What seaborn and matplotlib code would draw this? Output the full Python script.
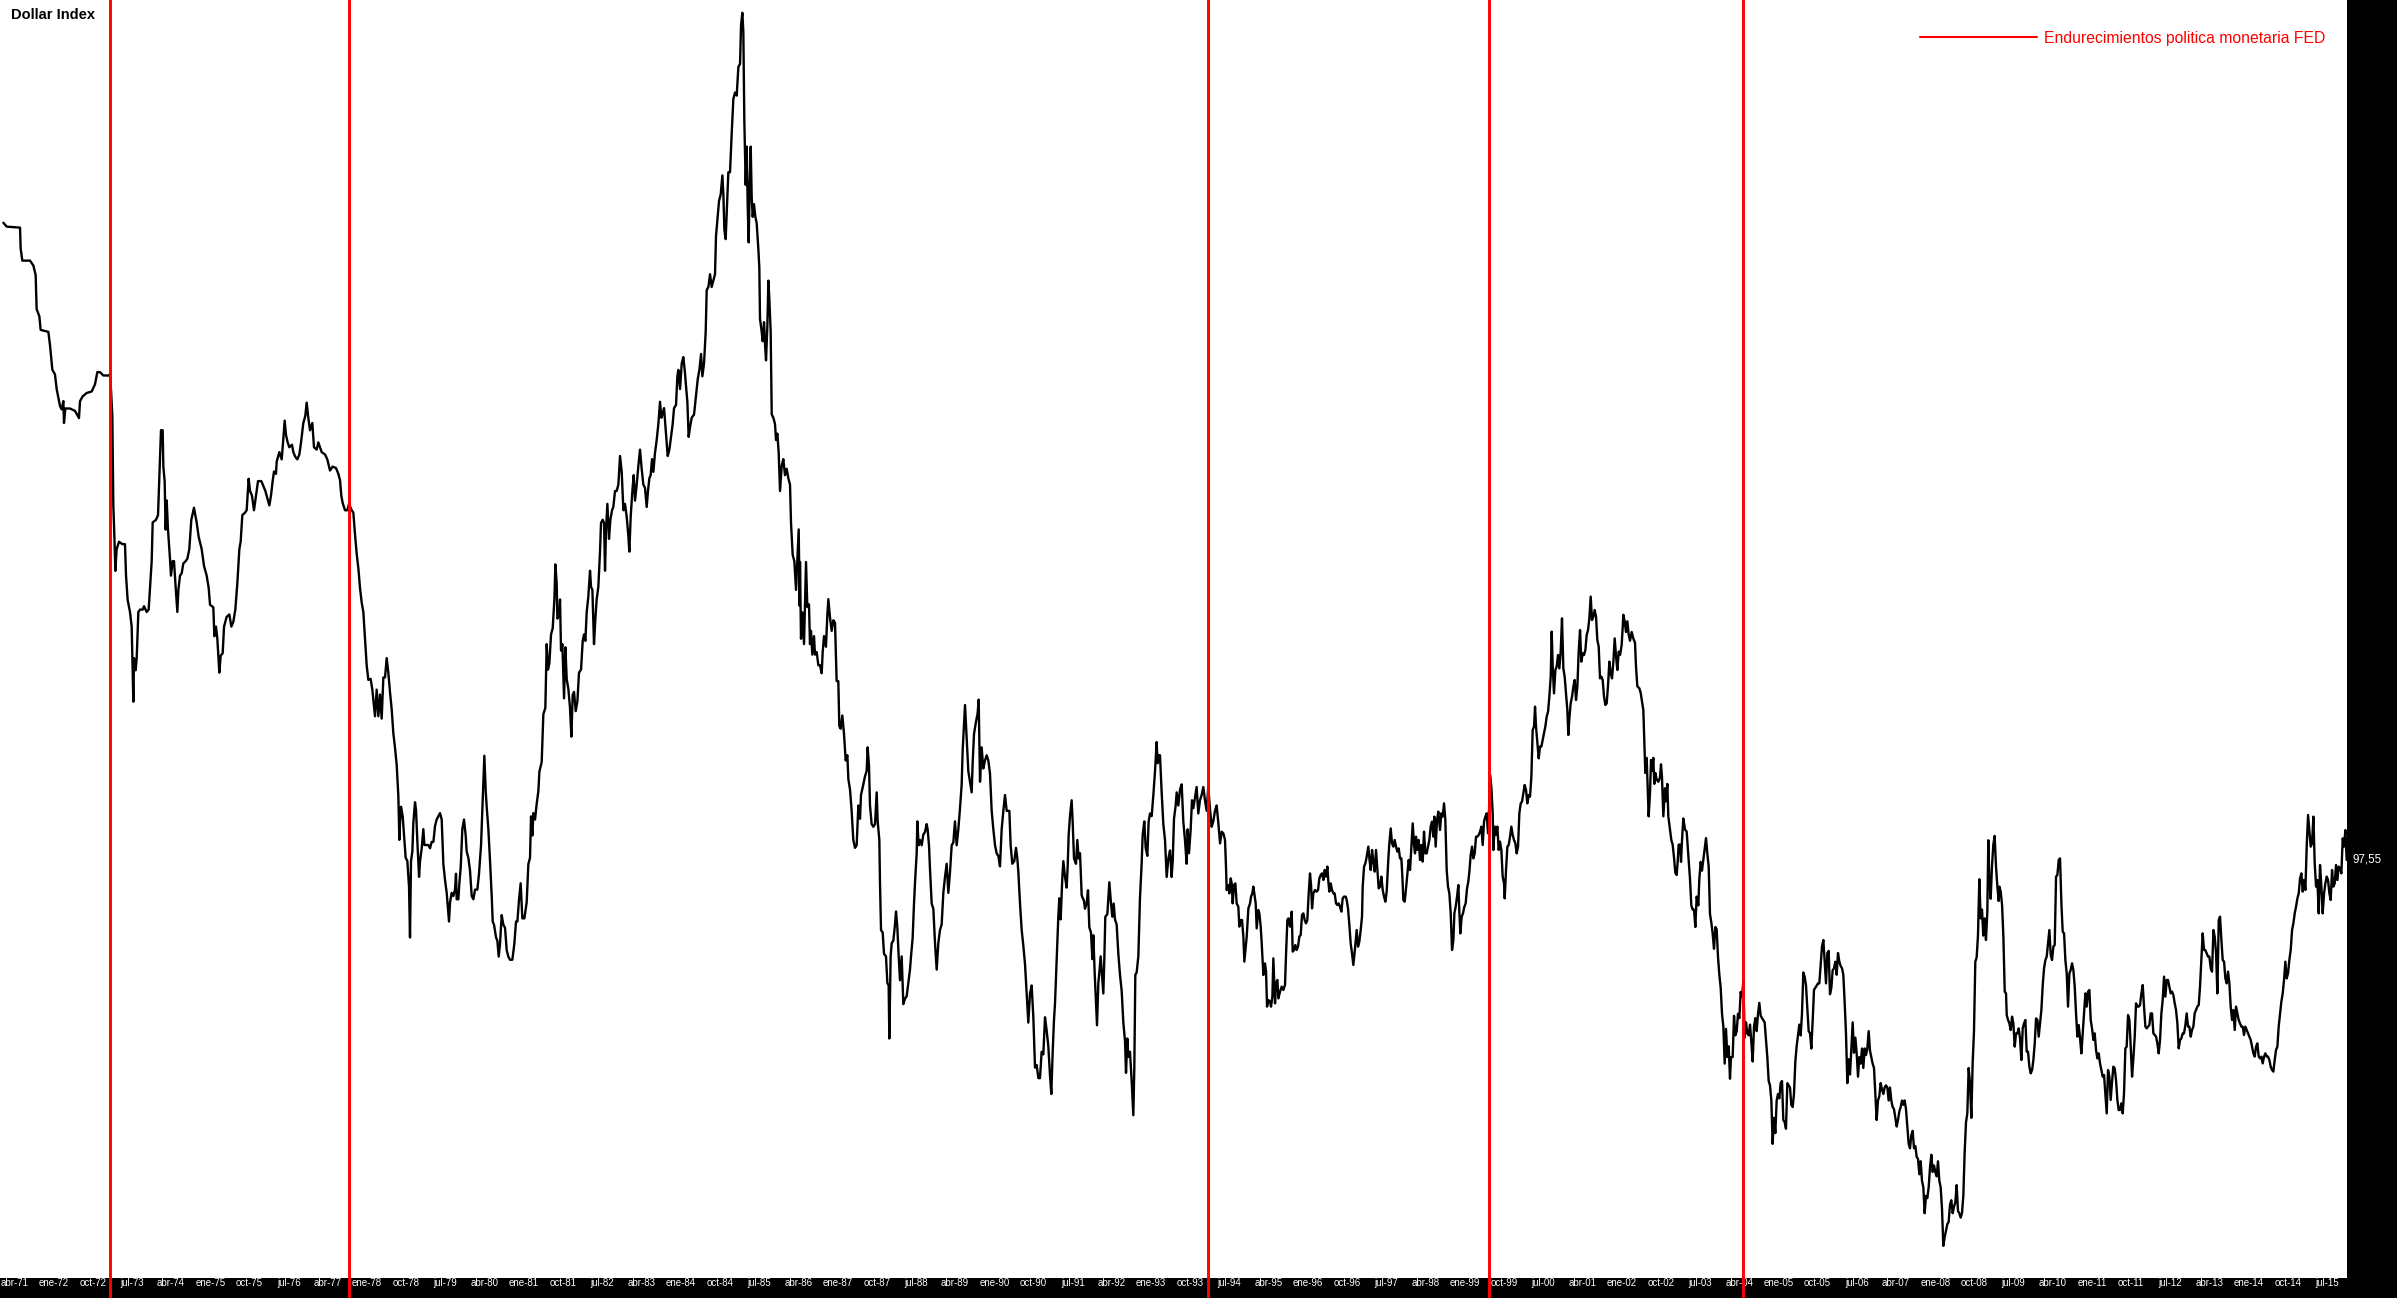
import numpy as np
import pandas as pd
import matplotlib
matplotlib.use("Agg")
import matplotlib.pyplot as plt
from matplotlib.lines import Line2D
import seaborn as sns

# Dollar Index as (decimal year, value)
dxy_1971_1978 = [
    (1971.041, 148.53), (1971.105, 148.22), (1971.360, 148.14), (1971.372, 146.47), (1971.404, 145.50),
    (1971.551, 145.50), (1971.615, 145.11), (1971.659, 144.34), (1971.678, 141.62), (1971.730, 141.04),
    (1971.755, 139.96), (1971.902, 139.80), (1971.934, 138.72), (1971.978, 136.78), (1972.029, 136.39),
    (1972.061, 135.23), (1972.125, 133.87), (1972.157, 133.60), (1972.189, 134.26), (1972.201, 132.51),
    (1972.227, 133.67), (1972.316, 133.67), (1972.412, 133.48), (1972.488, 132.90), (1972.508, 134.26),
    (1972.558, 134.64), (1972.635, 134.91), (1972.731, 135.03), (1972.795, 135.61), (1972.839, 136.58),
    (1972.890, 136.58), (1972.954, 136.31), (1973.056, 136.31), (1973.081, 136.39), (1973.101, 135.15),
    (1973.126, 133.09), (1973.145, 125.92), (1973.164, 123.59), (1973.184, 120.68), (1973.209, 122.43),
    (1973.254, 123.01), (1973.317, 122.82), (1973.368, 122.82), (1973.388, 120.30), (1973.419, 118.36),
    (1973.464, 117.39), (1973.496, 116.22), (1973.528, 110.21), (1973.541, 113.70), (1973.573, 112.73),
    (1973.592, 113.70), (1973.624, 117.39), (1973.655, 117.58), (1973.706, 117.58), (1973.732, 117.85),
    (1973.783, 117.39), (1973.821, 117.58), (1973.847, 119.33), (1973.879, 121.46), (1973.898, 124.56),
    (1973.961, 124.76), (1974.000, 125.14), (1974.025, 128.05), (1974.057, 131.93), (1974.089, 131.93),
    (1974.102, 129.02), (1974.127, 127.86), (1974.146, 123.98), (1974.166, 126.31), (1974.191, 123.98),
    (1974.229, 121.65), (1974.248, 120.30), (1974.280, 121.46), (1974.306, 121.46), (1974.338, 119.33),
    (1974.370, 117.39), (1974.389, 119.13), (1974.421, 120.30), (1974.453, 120.49), (1974.484, 121.27),
    (1974.529, 121.46), (1974.561, 121.65), (1974.599, 122.43), (1974.637, 124.76), (1974.688, 125.73),
    (1974.739, 124.56), (1974.778, 123.40), (1974.835, 122.43), (1974.880, 121.07), (1974.931, 120.30),
    (1974.969, 119.33), (1974.995, 117.97), (1975.058, 117.77), (1975.078, 115.45), (1975.109, 116.22),
    (1975.135, 115.25), (1975.173, 112.54), (1975.199, 113.90), (1975.237, 114.09), (1975.263, 116.22),
    (1975.313, 117.00), (1975.365, 117.19), (1975.403, 116.22), (1975.441, 116.61), (1975.479, 117.58),
    (1975.518, 119.71), (1975.556, 122.43), (1975.581, 123.01), (1975.613, 125.14), (1975.664, 125.34),
    (1975.696, 125.53), (1975.734, 128.05), (1975.760, 127.08), (1975.798, 126.69), (1975.836, 125.53),
    (1975.875, 126.69), (1975.913, 127.86), (1975.977, 127.86), (1976.015, 127.47), (1976.053, 127.08),
    (1976.091, 126.50), (1976.130, 125.92), (1976.161, 126.69), (1976.193, 127.86), (1976.219, 128.63),
    (1976.257, 128.44), (1976.270, 129.41), (1976.321, 130.18), (1976.366, 129.60), (1976.385, 130.57),
    (1976.423, 132.70), (1976.449, 131.54), (1976.480, 130.96), (1976.512, 130.57), (1976.563, 130.77),
    (1976.589, 130.18), (1976.627, 129.80), (1976.665, 129.60), (1976.704, 129.99), (1976.736, 130.96),
    (1976.780, 132.51), (1976.818, 133.09), (1976.844, 134.14), (1976.876, 132.90), (1976.908, 131.93),
    (1976.952, 132.51), (1976.984, 130.57), (1977.035, 130.38), (1977.067, 130.96), (1977.099, 130.57),
    (1977.131, 130.18), (1977.195, 129.99), (1977.239, 129.60), (1977.290, 128.71), (1977.341, 129.02),
    (1977.405, 128.91), (1977.450, 128.44), (1977.482, 127.94), (1977.507, 126.69), (1977.533, 126.11),
    (1977.577, 125.53), (1977.622, 125.53), (1977.654, 126.04), (1977.705, 125.53), (1977.737, 125.34),
    (1977.769, 123.59), (1977.801, 122.04), (1977.833, 120.88), (1977.864, 119.33), (1977.896, 118.16),
    (1977.928, 117.39), (1977.966, 114.87), (1977.992, 113.12), (1978.024, 111.96), (1978.068, 112.04),
    (1978.100, 111.18), (1978.151, 109.05), (1978.183, 111.18), (1978.215, 109.05), (1978.247, 110.79),
    (1978.279, 108.86), (1978.311, 112.15), (1978.343, 112.15), (1978.375, 113.70), (1978.406, 112.54),
    (1978.438, 110.99), (1978.470, 109.63), (1978.502, 107.69), (1978.534, 106.53), (1978.566, 105.17),
    (1978.598, 102.65), (1978.617, 99.16),
]

dxy_1978_1986 = [
    (1978.630, 100.53), (1978.649, 101.81), (1978.681, 101.04), (1978.707, 99.51), (1978.738, 97.73),
    (1978.770, 97.47), (1978.802, 95.43), (1978.821, 91.35), (1978.840, 97.47), (1978.866, 98.24),
    (1978.885, 100.53), (1978.917, 102.17), (1978.936, 101.55), (1978.962, 99.00), (1978.994, 96.20),
    (1979.013, 97.47), (1979.045, 98.49), (1979.076, 100.02), (1979.096, 98.75), (1979.127, 98.75),
    (1979.172, 98.75), (1979.204, 98.49), (1979.236, 99.00), (1979.268, 99.00), (1979.300, 100.28),
    (1979.331, 100.79), (1979.363, 101.04), (1979.395, 101.30), (1979.427, 100.79), (1979.459, 97.22),
    (1979.491, 95.94), (1979.523, 94.92), (1979.542, 93.90), (1979.567, 92.63), (1979.587, 94.16),
    (1979.618, 94.92), (1979.650, 94.67), (1979.682, 95.18), (1979.701, 96.45), (1979.714, 94.41),
    (1979.746, 94.41), (1979.765, 95.69), (1979.791, 96.96), (1979.822, 100.02), (1979.854, 100.79),
    (1979.886, 99.51), (1979.905, 98.24), (1979.937, 97.73), (1979.969, 96.71), (1980.001, 94.67),
    (1980.033, 94.41), (1980.065, 95.18), (1980.109, 95.18), (1980.141, 96.45), (1980.180, 98.75),
    (1980.205, 101.55), (1980.243, 105.89), (1980.269, 103.08), (1980.288, 101.81), (1980.320, 100.02),
    (1980.352, 97.47), (1980.384, 94.67), (1980.403, 92.63), (1980.428, 92.37), (1980.467, 91.35),
    (1980.492, 91.10), (1980.518, 89.82), (1980.543, 90.84), (1980.575, 93.14), (1980.607, 92.37),
    (1980.639, 92.12), (1980.671, 90.33), (1980.702, 89.82), (1980.734, 89.57), (1980.779, 89.57),
    (1980.817, 90.84), (1980.849, 92.63), (1980.875, 92.63), (1980.907, 94.41), (1980.938, 95.69),
    (1980.970, 92.88), (1981.009, 92.88), (1981.053, 94.16), (1981.085, 97.22), (1981.117, 97.73),
    (1981.136, 101.04), (1981.162, 99.51), (1981.181, 101.30), (1981.213, 100.79), (1981.245, 102.06),
    (1981.277, 103.08), (1981.296, 104.62), (1981.340, 105.38), (1981.372, 109.21), (1981.410, 109.72),
    (1981.436, 114.82), (1981.461, 112.78), (1981.487, 113.29), (1981.519, 115.59), (1981.551, 116.10),
    (1981.583, 118.39), (1981.602, 121.20), (1981.627, 119.67), (1981.640, 116.86), (1981.672, 117.12),
    (1981.691, 118.39), (1981.710, 114.31), (1981.736, 114.82), (1981.768, 110.48), (1981.793, 114.57),
    (1981.819, 112.01), (1981.850, 111.25), (1981.882, 109.72), (1981.908, 107.42), (1981.933, 110.74),
    (1981.959, 111.00), (1981.991, 109.46), (1982.023, 110.23), (1982.054, 112.53), (1982.093, 112.78),
    (1982.125, 115.08), (1982.150, 115.59), (1982.176, 115.08), (1982.201, 117.37), (1982.233, 118.65),
    (1982.265, 120.69), (1982.284, 119.41), (1982.310, 119.16), (1982.341, 114.82), (1982.367, 116.86),
    (1982.392, 118.39), (1982.424, 119.41), (1982.456, 122.22), (1982.475, 124.51), (1982.507, 124.77),
    (1982.533, 124.51), (1982.552, 120.69), (1982.571, 124.00), (1982.597, 126.04), (1982.628, 123.24),
    (1982.654, 124.77), (1982.686, 125.53), (1982.711, 125.79), (1982.743, 127.07), (1982.775, 127.07),
    (1982.807, 127.58), (1982.839, 129.87), (1982.871, 128.60), (1982.903, 125.53), (1982.934, 126.04),
    (1982.966, 125.02), (1982.998, 123.49), (1983.017, 122.22), (1983.043, 125.02), (1983.075, 127.07),
    (1983.100, 128.34), (1983.126, 126.30), (1983.158, 127.58), (1983.190, 129.10), (1983.221, 130.38),
    (1983.253, 128.85), (1983.285, 127.58), (1983.317, 127.32), (1983.349, 125.79), (1983.374, 127.07),
    (1983.400, 128.09), (1983.425, 128.34), (1983.451, 129.62), (1983.477, 128.60), (1983.508, 130.13),
    (1983.540, 131.15), (1983.572, 132.42), (1983.604, 134.21), (1983.630, 132.93), (1983.649, 133.19),
    (1983.681, 133.70), (1983.713, 131.91), (1983.751, 129.87), (1983.783, 130.38), (1983.814, 131.40),
    (1983.846, 132.42), (1983.872, 133.70), (1983.910, 133.95), (1983.936, 136.25), (1983.955, 136.76),
    (1983.987, 135.23), (1984.019, 137.27), (1984.050, 137.78), (1984.082, 136.50), (1984.101, 135.48),
    (1984.127, 134.21), (1984.152, 131.40), (1984.178, 132.17), (1984.210, 132.93), (1984.255, 133.19),
    (1984.287, 134.46), (1984.325, 136.00), (1984.357, 136.76), (1984.389, 138.03), (1984.414, 136.25),
    (1984.446, 137.27), (1984.478, 139.82), (1984.497, 143.14), (1984.529, 143.39), (1984.561, 144.41),
    (1984.592, 143.39), (1984.624, 143.90), (1984.656, 144.41), (1984.675, 147.47), (1984.707, 149.00),
    (1984.733, 150.28), (1984.765, 150.79), (1984.797, 152.32), (1984.816, 150.79), (1984.835, 147.98),
    (1984.860, 147.22), (1984.879, 149.26), (1984.911, 152.57), (1984.943, 152.57), (1984.975, 155.64),
    (1985.007, 158.44), (1985.039, 158.95), (1985.071, 158.70), (1985.103, 160.99), (1985.135, 161.25),
    (1985.154, 164.31), (1985.179, 165.33), (1985.198, 163.80), (1985.217, 156.66), (1985.243, 151.55),
    (1985.262, 154.62), (1985.281, 150.02), (1985.300, 146.96), (1985.319, 151.55), (1985.339, 154.62),
    (1985.358, 150.53), (1985.377, 149.00), (1985.402, 150.02), (1985.428, 149.00), (1985.453, 148.49),
    (1985.485, 146.45), (1985.504, 144.92), (1985.517, 140.84), (1985.549, 139.82), (1985.568, 139.05),
    (1985.594, 140.58), (1985.613, 138.80), (1985.632, 137.52), (1985.658, 140.33), (1985.677, 143.90),
    (1985.696, 142.37), (1985.721, 139.82), (1985.741, 133.19), (1985.772, 132.93), (1985.804, 132.42),
    (1985.823, 131.15), (1985.849, 131.66), (1985.874, 130.13), (1985.900, 127.07), (1985.932, 129.10),
    (1985.963, 129.62), (1985.995, 128.34), (1986.027, 128.85), (1986.059, 128.09), (1986.091, 127.58),
    (1986.110, 124.51), (1986.142, 121.96), (1986.174, 121.45), (1986.206, 119.16), (1986.231, 121.45),
    (1986.257, 124.00), (1986.276, 117.88),
]

dxy_1986_1994 = [
    (1986.282, 121.39), (1986.301, 115.25), (1986.327, 117.36), (1986.359, 114.82), (1986.378, 118.00),
    (1986.397, 121.39), (1986.422, 117.79), (1986.454, 118.00), (1986.473, 114.82), (1986.492, 115.88),
    (1986.518, 113.98), (1986.550, 115.46), (1986.569, 113.98), (1986.601, 114.19), (1986.633, 113.13),
    (1986.665, 113.13), (1986.697, 112.49), (1986.716, 114.19), (1986.741, 115.46), (1986.779, 114.61),
    (1986.805, 117.15), (1986.824, 118.42), (1986.856, 116.94), (1986.888, 115.88), (1986.920, 116.73),
    (1986.952, 116.52), (1986.983, 111.86), (1987.015, 111.86), (1987.034, 108.26), (1987.060, 108.05),
    (1987.092, 109.11), (1987.124, 107.62), (1987.156, 105.51), (1987.188, 105.93), (1987.207, 104.02),
    (1987.239, 103.18), (1987.270, 101.48), (1987.302, 99.15), (1987.334, 98.52), (1987.366, 98.73),
    (1987.398, 101.91), (1987.430, 100.85), (1987.449, 102.75), (1987.494, 103.60), (1987.525, 104.24),
    (1987.557, 104.66), (1987.576, 106.56), (1987.602, 105.08), (1987.621, 101.91), (1987.653, 100.42),
    (1987.685, 100.21), (1987.717, 100.42), (1987.749, 102.96), (1987.768, 100.64), (1987.800, 99.15),
    (1987.812, 95.77), (1987.832, 91.95), (1987.864, 91.74), (1987.889, 90.05), (1987.927, 89.84),
    (1987.953, 87.72), (1987.978, 87.51), (1987.991, 83.27), (1988.016, 89.84), (1988.036, 90.89),
    (1988.068, 91.11), (1988.099, 92.38), (1988.119, 93.43), (1988.144, 92.17), (1988.170, 89.84),
    (1988.195, 87.93), (1988.227, 89.84), (1988.259, 86.02), (1988.291, 86.45), (1988.323, 86.66),
    (1988.355, 87.72), (1988.386, 88.78), (1988.406, 89.84), (1988.437, 91.32), (1988.463, 94.07),
    (1988.488, 96.19), (1988.514, 98.09), (1988.527, 100.64), (1988.552, 98.73), (1988.578, 99.15),
    (1988.610, 98.73), (1988.641, 99.58), (1988.673, 99.79), (1988.705, 100.42), (1988.724, 100.00),
    (1988.750, 98.73), (1988.769, 96.82), (1988.801, 94.07), (1988.833, 93.65), (1988.865, 90.89),
    (1988.897, 88.78), (1988.928, 90.89), (1988.960, 91.95), (1988.992, 92.38), (1989.024, 94.92),
    (1989.056, 96.19), (1989.088, 97.25), (1989.120, 94.92), (1989.152, 96.61), (1989.184, 98.73),
    (1989.215, 98.94), (1989.247, 100.64), (1989.279, 98.73), (1989.311, 100.00), (1989.343, 101.69),
    (1989.375, 103.60), (1989.394, 106.35), (1989.407, 107.41), (1989.439, 109.95), (1989.471, 107.20),
    (1989.502, 104.66), (1989.534, 103.81), (1989.566, 102.96), (1989.585, 105.29), (1989.611, 107.62),
    (1989.643, 108.47), (1989.681, 109.32), (1989.700, 110.38), (1989.726, 103.81), (1989.757, 106.56),
    (1989.789, 104.87), (1989.821, 105.51), (1989.853, 105.93), (1989.885, 105.51), (1989.917, 104.45),
    (1989.949, 101.48), (1989.981, 100.00), (1990.013, 98.73), (1990.044, 98.09), (1990.076, 97.88),
    (1990.108, 97.04), (1990.140, 100.00), (1990.172, 101.48), (1990.204, 102.75), (1990.236, 101.48),
    (1990.287, 101.48), (1990.312, 98.73), (1990.344, 97.25), (1990.382, 97.46), (1990.414, 98.52),
    (1990.440, 97.67), (1990.459, 96.61), (1990.491, 94.07), (1990.523, 91.95), (1990.555, 90.68),
    (1990.587, 89.20), (1990.618, 86.87), (1990.650, 84.54), (1990.682, 86.87), (1990.714, 87.51),
    (1990.746, 84.97), (1990.778, 80.94), (1990.810, 81.15), (1990.842, 80.10), (1990.873, 80.10),
    (1990.905, 82.21), (1990.937, 82.00), (1990.969, 84.97), (1991.001, 83.91), (1991.033, 82.64),
    (1991.065, 80.31), (1991.090, 78.83), (1991.116, 82.21), (1991.141, 84.75), (1991.160, 86.02),
    (1991.180, 88.14), (1991.192, 89.62), (1991.224, 93.01), (1991.243, 94.49), (1991.269, 92.80),
    (1991.301, 96.19), (1991.320, 97.46), (1991.352, 96.19), (1991.384, 95.34), (1991.403, 97.04),
    (1991.422, 99.58), (1991.447, 101.06), (1991.479, 102.33), (1991.498, 100.64), (1991.524, 97.67),
    (1991.562, 97.25), (1991.588, 99.15), (1991.613, 97.67), (1991.639, 98.09), (1991.671, 94.71),
    (1991.715, 94.28), (1991.734, 93.65), (1991.766, 94.07), (1991.792, 95.13), (1991.817, 92.17),
    (1991.849, 91.74), (1991.875, 89.62), (1991.894, 91.53), (1991.919, 88.57), (1991.945, 86.02),
    (1991.964, 84.33), (1991.990, 87.72), (1992.009, 88.57), (1992.034, 89.84), (1992.060, 88.36),
    (1992.085, 86.87), (1992.104, 89.62), (1992.123, 93.01), (1992.162, 93.22), (1992.200, 95.77),
    (1992.232, 94.07), (1992.257, 93.01), (1992.283, 94.07), (1992.308, 92.80), (1992.340, 92.38),
    (1992.372, 90.05), (1992.404, 88.36), (1992.436, 87.08), (1992.468, 84.54), (1992.500, 83.06),
    (1992.519, 80.52), (1992.544, 83.27), (1992.563, 81.79), (1992.595, 82.21), (1992.627, 79.88),
    (1992.659, 77.13), (1992.678, 80.94), (1992.697, 88.36), (1992.723, 88.57), (1992.755, 89.84),
    (1992.786, 94.49), (1992.818, 97.25), (1992.838, 99.58), (1992.869, 100.64), (1992.895, 98.52),
    (1992.927, 97.88), (1992.952, 100.64), (1992.978, 101.27), (1993.010, 101.06), (1993.042, 102.75),
    (1993.074, 104.66), (1993.105, 106.99), (1993.124, 105.29), (1993.150, 105.93), (1993.169, 105.93),
    (1993.201, 102.96), (1993.233, 100.42), (1993.265, 99.15), (1993.297, 96.19), (1993.329, 97.67),
    (1993.361, 98.31), (1993.392, 96.19), (1993.412, 97.46), (1993.437, 100.85), (1993.469, 101.91),
    (1993.488, 102.96), (1993.520, 101.91), (1993.552, 103.18), (1993.584, 103.60), (1993.615, 100.64),
    (1993.647, 99.15), (1993.679, 97.25), (1993.698, 100.00), (1993.724, 98.09), (1993.756, 100.00),
    (1993.781, 102.33), (1993.807, 101.69), (1993.839, 102.54), (1993.870, 103.39), (1993.902, 101.27),
    (1993.934, 102.33), (1993.966, 102.75), (1993.998, 103.39), (1994.030, 102.33), (1994.062, 101.48),
    (1994.093, 103.39), (1994.125, 101.69), (1994.157, 100.21), (1994.189, 100.64), (1994.221, 101.48),
    (1994.253, 101.91),
]

dxy_1994_2001 = [
    (1994.286, 100.48), (1994.318, 98.88), (1994.350, 99.81), (1994.381, 99.68), (1994.413, 99.15),
    (1994.432, 97.01), (1994.445, 95.15), (1994.477, 95.55), (1994.496, 94.88), (1994.522, 96.08),
    (1994.541, 95.68), (1994.560, 94.08), (1994.585, 95.55), (1994.611, 95.68), (1994.636, 94.08),
    (1994.668, 93.81), (1994.687, 92.22), (1994.713, 92.75), (1994.738, 92.75), (1994.764, 91.42),
    (1994.783, 89.42), (1994.809, 90.62), (1994.828, 91.42), (1994.860, 93.68), (1994.892, 94.08),
    (1994.911, 94.62), (1994.936, 94.88), (1994.955, 95.42), (1994.974, 94.88), (1995.000, 94.08),
    (1995.019, 92.08), (1995.051, 93.55), (1995.070, 93.28), (1995.096, 92.22), (1995.115, 90.88),
    (1995.147, 88.35), (1995.178, 89.28), (1995.198, 88.62), (1995.217, 85.82), (1995.242, 86.35),
    (1995.274, 86.22), (1995.293, 85.82), (1995.319, 86.62), (1995.338, 89.68), (1995.370, 86.08),
    (1995.389, 87.68), (1995.415, 87.95), (1995.434, 86.48), (1995.466, 87.02), (1995.497, 87.42),
    (1995.529, 87.15), (1995.561, 87.55), (1995.580, 89.95), (1995.606, 92.75), (1995.625, 92.88),
    (1995.657, 92.22), (1995.689, 93.42), (1995.708, 90.22), (1995.733, 90.35), (1995.759, 90.75),
    (1995.784, 90.35), (1995.810, 90.62), (1995.835, 91.42), (1995.861, 91.55), (1995.886, 93.15),
    (1995.912, 93.28), (1995.937, 92.75), (1995.963, 92.48), (1995.988, 92.75), (1996.014, 94.88),
    (1996.039, 96.48), (1996.059, 95.55), (1996.078, 93.68), (1996.103, 94.88), (1996.135, 95.15),
    (1996.167, 95.02), (1996.193, 95.15), (1996.218, 96.08), (1996.244, 96.35), (1996.269, 96.48),
    (1996.295, 95.95), (1996.320, 96.75), (1996.346, 96.22), (1996.371, 97.02), (1996.390, 95.82),
    (1996.409, 95.02), (1996.435, 95.68), (1996.460, 95.15), (1996.486, 94.88), (1996.511, 94.88),
    (1996.537, 94.08), (1996.562, 93.95), (1996.588, 94.08), (1996.613, 93.81), (1996.639, 93.42),
    (1996.664, 94.48), (1996.690, 94.62), (1996.722, 94.62), (1996.741, 94.35), (1996.766, 93.68),
    (1996.792, 92.35), (1996.817, 90.88), (1996.843, 90.08), (1996.868, 89.15), (1996.900, 90.48),
    (1996.932, 91.95), (1996.958, 90.62), (1996.983, 91.02), (1997.009, 91.95), (1997.034, 93.02),
    (1997.047, 95.42), (1997.073, 97.02), (1997.098, 97.28), (1997.124, 97.82), (1997.155, 98.62),
    (1997.175, 97.68), (1997.200, 96.75), (1997.226, 98.35), (1997.251, 97.42), (1997.277, 96.62),
    (1997.302, 98.35), (1997.328, 96.75), (1997.353, 95.28), (1997.379, 95.42), (1997.404, 96.22),
    (1997.430, 95.15), (1997.455, 94.62), (1997.481, 94.22), (1997.506, 95.02), (1997.538, 97.68),
    (1997.557, 98.88), (1997.583, 100.08), (1997.608, 98.88), (1997.634, 98.62), (1997.659, 99.15),
    (1997.685, 98.62), (1997.710, 98.22), (1997.736, 98.48), (1997.761, 97.68), (1997.787, 97.68),
    (1997.806, 96.22), (1997.825, 94.35), (1997.851, 94.22), (1997.876, 95.28), (1997.902, 96.48),
    (1997.927, 97.55), (1997.953, 96.75), (1997.978, 98.62), (1998.004, 100.48), (1998.029, 98.75),
    (1998.048, 98.08), (1998.067, 99.42), (1998.093, 98.35), (1998.118, 99.15), (1998.144, 97.55),
    (1998.169, 98.75), (1998.195, 97.42), (1998.220, 99.82), (1998.246, 98.08), (1998.271, 98.08),
    (1998.297, 98.62), (1998.322, 99.15), (1998.348, 100.22), (1998.373, 100.62), (1998.399, 99.42),
    (1998.418, 101.02), (1998.443, 98.62), (1998.469, 100.75), (1998.494, 101.42), (1998.526, 99.95),
    (1998.552, 101.28), (1998.577, 101.02), (1998.603, 102.08), (1998.628, 100.75), (1998.654, 96.75),
    (1998.679, 95.42), (1998.705, 94.88), (1998.731, 93.28), (1998.756, 90.35), (1998.782, 91.15),
    (1998.801, 93.28), (1998.826, 93.81), (1998.852, 94.62), (1998.877, 95.55), (1998.896, 93.42),
    (1998.915, 91.68), (1998.941, 93.02), (1998.966, 93.28), (1998.992, 93.81), (1999.017, 94.08),
    (1999.043, 95.28), (1999.068, 95.82), (1999.088, 96.62), (1999.113, 97.95), (1999.139, 98.62),
    (1999.164, 97.68), (1999.190, 98.08), (1999.215, 99.42), (1999.241, 99.42), (1999.266, 99.55),
    (1999.292, 99.82), (1999.317, 100.22), (1999.343, 98.75), (1999.368, 100.62), (1999.394, 101.02),
    (1999.419, 101.28), (1999.445, 99.68), (1999.464, 101.55), (1999.483, 104.35), (1999.508, 103.42),
    (1999.534, 101.28), (1999.547, 98.35), (1999.572, 100.22), (1999.598, 99.55), (1999.623, 100.22),
    (1999.649, 98.35), (1999.674, 99.02), (1999.700, 98.35), (1999.725, 96.22), (1999.751, 95.68),
    (1999.764, 94.48), (1999.789, 96.75), (1999.815, 98.62), (1999.840, 98.75), (1999.866, 99.42),
    (1999.891, 100.22), (1999.917, 99.55), (1999.942, 99.15), (1999.968, 98.88), (1999.993, 98.08),
    (2000.019, 98.62), (2000.044, 101.28), (2000.070, 102.08), (2000.095, 102.22), (2000.121, 102.88),
    (2000.146, 103.55), (2000.172, 103.15), (2000.197, 102.08), (2000.223, 102.75), (2000.248, 102.62),
    (2000.274, 104.22), (2000.299, 107.95), (2000.325, 108.22), (2000.344, 109.82), (2000.363, 108.22),
    (2000.388, 107.02), (2000.414, 105.68), (2000.439, 106.62), (2000.465, 106.62), (2000.490, 107.15),
    (2000.516, 107.68), (2000.541, 108.22), (2000.567, 109.02), (2000.593, 109.42), (2000.618, 110.62),
    (2000.644, 112.22), (2000.663, 115.82), (2000.682, 113.02), (2000.707, 110.88), (2000.733, 112.75),
    (2000.758, 113.02), (2000.784, 113.95), (2000.809, 112.88), (2000.835, 114.22), (2000.860, 116.88),
    (2000.886, 112.88), (2000.911, 112.22), (2000.937, 110.88), (2000.962, 109.55), (2000.981, 107.55),
    (2001.001, 108.88), (2001.026, 110.08), (2001.052, 110.62), (2001.077, 111.42), (2001.103, 111.95),
    (2001.128, 110.35), (2001.154, 111.42), (2001.179, 114.22), (2001.205, 115.95), (2001.230, 113.42),
    (2001.256, 114.08), (2001.281, 113.95), (2001.307, 114.35), (2001.332, 115.55), (2001.358, 115.95),
    (2001.383, 116.88), (2001.409, 118.62), (2001.434, 116.75), (2001.460, 117.02), (2001.485, 117.55),
    (2001.511, 117.02), (2001.536, 115.15), (2001.562, 114.62), (2001.587, 112.08), (2001.613, 112.22),
    (2001.638, 111.95), (2001.664, 110.62), (2001.690, 109.95), (2001.715, 110.08), (2001.741, 111.55),
    (2001.766, 113.42), (2001.792, 112.48), (2001.817, 112.08), (2001.843, 113.42), (2001.868, 115.28),
    (2001.894, 113.82), (2001.919, 112.75), (2001.945, 114.22), (2001.970, 113.95),
]

dxy_2002_2009 = [
    (2001.982, 114.22), (2002.001, 114.75), (2002.021, 116.13), (2002.033, 117.17), (2002.059, 116.65),
    (2002.084, 115.79), (2002.110, 116.65), (2002.135, 115.61), (2002.161, 115.09), (2002.193, 115.79),
    (2002.225, 115.27), (2002.257, 114.92), (2002.276, 113.01), (2002.301, 111.45), (2002.340, 111.28),
    (2002.365, 110.93), (2002.391, 110.23), (2002.416, 109.54), (2002.435, 107.11), (2002.454, 104.51),
    (2002.480, 105.72), (2002.499, 103.29), (2002.518, 101.04), (2002.544, 102.95), (2002.563, 105.55),
    (2002.582, 104.68), (2002.607, 105.72), (2002.626, 103.64), (2002.646, 104.51), (2002.671, 103.99),
    (2002.703, 103.81), (2002.735, 104.16), (2002.754, 105.20), (2002.773, 104.16), (2002.799, 101.04),
    (2002.831, 103.29), (2002.850, 102.25), (2002.875, 103.64), (2002.894, 101.04), (2002.926, 100.00),
    (2002.952, 99.13), (2002.977, 98.78), (2003.003, 97.74), (2003.028, 96.53), (2003.054, 96.35),
    (2003.073, 97.40), (2003.092, 98.78), (2003.118, 98.78), (2003.137, 97.40), (2003.156, 99.13),
    (2003.181, 100.87), (2003.213, 100.00), (2003.245, 99.82), (2003.271, 98.26), (2003.290, 97.05),
    (2003.309, 96.01), (2003.334, 93.92), (2003.360, 93.58), (2003.385, 93.58), (2003.411, 92.19),
    (2003.436, 94.62), (2003.468, 93.92), (2003.487, 96.01), (2003.513, 97.40), (2003.538, 96.70),
    (2003.564, 97.57), (2003.589, 98.44), (2003.615, 99.30), (2003.640, 98.09), (2003.666, 97.05),
    (2003.691, 93.23), (2003.717, 92.54), (2003.742, 91.67), (2003.768, 90.45), (2003.794, 92.19),
    (2003.819, 92.02), (2003.845, 89.76), (2003.870, 88.37), (2003.896, 87.33), (2003.921, 85.25),
    (2003.947, 84.21), (2003.972, 81.26), (2003.998, 84.04), (2004.023, 81.78), (2004.049, 82.65),
    (2004.074, 80.05), (2004.093, 81.78), (2004.125, 81.78), (2004.151, 85.08), (2004.176, 83.52),
    (2004.202, 83.86), (2004.227, 85.25), (2004.253, 84.90), (2004.278, 86.99), (2004.304, 86.64),
    (2004.329, 87.85), (2004.355, 83.34), (2004.380, 84.56), (2004.406, 83.69), (2004.431, 83.52),
    (2004.457, 84.38), (2004.482, 83.00), (2004.508, 81.43), (2004.533, 84.21), (2004.559, 84.90),
    (2004.584, 83.86), (2004.610, 85.25), (2004.635, 86.12), (2004.661, 85.08), (2004.686, 84.90),
    (2004.712, 84.73), (2004.737, 84.56), (2004.763, 83.17), (2004.788, 81.78), (2004.814, 79.87),
    (2004.839, 79.52), (2004.865, 78.31), (2004.890, 74.84), (2004.916, 76.92), (2004.941, 75.71),
    (2004.967, 78.31), (2004.992, 78.83), (2005.018, 78.48), (2005.043, 79.70), (2005.069, 79.87),
    (2005.094, 76.75), (2005.120, 76.57), (2005.145, 76.05), (2005.171, 79.70), (2005.196, 79.52),
    (2005.222, 79.35), (2005.247, 77.96), (2005.273, 77.79), (2005.298, 78.83), (2005.324, 81.43),
    (2005.349, 82.65), (2005.375, 83.52), (2005.400, 84.38), (2005.426, 83.52), (2005.451, 85.25),
    (2005.477, 88.55), (2005.503, 88.20), (2005.528, 87.51), (2005.554, 85.60), (2005.579, 83.86),
    (2005.605, 83.69), (2005.630, 82.47), (2005.656, 84.73), (2005.681, 87.16), (2005.707, 87.33),
    (2005.732, 87.51), (2005.758, 87.68), (2005.783, 87.68), (2005.809, 89.24), (2005.834, 90.63),
    (2005.860, 91.15), (2005.885, 89.41), (2005.911, 87.68), (2005.936, 90.11), (2005.962, 90.28),
    (2005.987, 86.81), (2006.013, 87.33), (2006.038, 88.72), (2006.064, 88.89), (2006.089, 89.41),
    (2006.115, 88.37), (2006.140, 90.11), (2006.166, 89.41), (2006.191, 89.07), (2006.217, 88.89),
    (2006.242, 88.37), (2006.268, 86.12), (2006.293, 83.69), (2006.319, 79.70), (2006.344, 81.61),
    (2006.370, 80.39), (2006.395, 82.47), (2006.421, 84.56), (2006.446, 82.13), (2006.472, 83.34),
    (2006.497, 82.13), (2006.523, 80.22), (2006.548, 81.78), (2006.574, 81.26), (2006.599, 82.47),
    (2006.625, 80.91), (2006.650, 82.47), (2006.676, 81.95), (2006.701, 82.47), (2006.727, 83.86),
    (2006.752, 82.30), (2006.778, 81.78), (2006.803, 81.26), (2006.829, 80.91), (2006.854, 78.83),
    (2006.880, 76.75), (2006.905, 78.31), (2006.931, 78.66), (2006.956, 79.70), (2006.982, 79.18),
    (2007.007, 78.83), (2007.033, 79.35), (2007.058, 79.52), (2007.084, 79.35), (2007.109, 78.31),
    (2007.135, 79.35), (2007.160, 78.31), (2007.186, 77.79), (2007.211, 77.62), (2007.237, 76.92),
    (2007.263, 76.23), (2007.288, 76.75), (2007.314, 77.44), (2007.339, 77.79), (2007.365, 78.31),
    (2007.390, 77.96), (2007.416, 78.31), (2007.441, 77.62), (2007.467, 76.23), (2007.492, 74.84),
    (2007.518, 74.49), (2007.543, 75.53), (2007.569, 75.88), (2007.594, 74.49), (2007.620, 74.67),
    (2007.645, 73.80), (2007.671, 73.63), (2007.696, 72.41), (2007.722, 73.45), (2007.747, 71.89),
    (2007.773, 71.37), (2007.798, 69.29), (2007.824, 70.68), (2007.849, 70.50), (2007.875, 71.37),
    (2007.900, 72.93), (2007.926, 73.97), (2007.951, 72.59), (2007.977, 73.11), (2008.002, 72.59),
    (2008.028, 72.24), (2008.053, 73.45), (2008.079, 71.89), (2008.104, 71.37), (2008.130, 69.63),
    (2008.155, 66.68), (2008.181, 67.38), (2008.206, 67.90), (2008.232, 68.42), (2008.257, 68.59),
    (2008.283, 69.98), (2008.308, 70.33), (2008.334, 69.29), (2008.359, 69.81), (2008.385, 70.16),
    (2008.410, 71.54), (2008.436, 69.46), (2008.461, 69.29), (2008.487, 68.94), (2008.512, 69.29),
    (2008.538, 70.68), (2008.563, 74.15), (2008.589, 76.57), (2008.614, 77.27), (2008.640, 80.91),
    (2008.665, 79.70), (2008.691, 76.92), (2008.716, 81.26), (2008.742, 83.86), (2008.767, 89.41),
    (2008.793, 89.76), (2008.818, 91.50), (2008.844, 96.01), (2008.869, 92.88), (2008.895, 93.58),
    (2008.920, 91.50), (2008.946, 92.88), (2008.971, 91.15), (2008.997, 93.40), (2009.016, 99.13),
    (2009.035, 96.01), (2009.061, 94.45), (2009.086, 97.05), (2009.112, 98.78), (2009.137, 99.48),
    (2009.163, 97.05), (2009.188, 95.49), (2009.214, 94.27),
]

dxy_2009_2015 = [
    (2009.228, 95.42), (2009.253, 95.02), (2009.279, 93.95), (2009.304, 91.42), (2009.330, 87.02),
    (2009.355, 86.88), (2009.368, 85.15), (2009.393, 84.75), (2009.419, 84.48), (2009.444, 83.95),
    (2009.470, 85.02), (2009.495, 84.48), (2009.521, 82.62), (2009.546, 83.68), (2009.572, 83.68),
    (2009.597, 84.08), (2009.623, 83.28), (2009.648, 81.55), (2009.674, 84.08), (2009.699, 84.48),
    (2009.725, 84.75), (2009.750, 82.22), (2009.776, 82.22), (2009.801, 81.02), (2009.827, 80.48),
    (2009.853, 80.75), (2009.878, 81.55), (2009.904, 82.88), (2009.929, 84.88), (2009.955, 84.75),
    (2009.980, 83.42), (2010.006, 84.48), (2010.031, 85.55), (2010.057, 87.55), (2010.082, 88.88),
    (2010.108, 89.55), (2010.133, 89.82), (2010.159, 90.88), (2010.184, 91.95), (2010.210, 89.95),
    (2010.235, 89.55), (2010.261, 90.62), (2010.286, 90.75), (2010.312, 96.22), (2010.337, 96.35),
    (2010.363, 97.55), (2010.388, 97.68), (2010.414, 94.08), (2010.439, 91.82), (2010.465, 91.68),
    (2010.490, 89.55), (2010.516, 88.48), (2010.541, 85.82), (2010.567, 88.48), (2010.592, 88.75),
    (2010.618, 89.28), (2010.643, 88.75), (2010.669, 87.42), (2010.694, 85.28), (2010.720, 83.42),
    (2010.745, 84.35), (2010.771, 83.28), (2010.796, 82.08), (2010.822, 83.68), (2010.847, 85.15),
    (2010.873, 86.88), (2010.898, 85.82), (2010.924, 87.02), (2010.949, 87.15), (2010.975, 84.75),
    (2011.000, 84.08), (2011.026, 83.15), (2011.051, 83.68), (2011.077, 82.35), (2011.102, 81.68),
    (2011.128, 82.08), (2011.153, 81.28), (2011.179, 80.75), (2011.204, 80.22), (2011.230, 80.35),
    (2011.255, 78.88), (2011.281, 77.28), (2011.306, 80.75), (2011.332, 80.22), (2011.357, 78.35),
    (2011.383, 79.82), (2011.408, 81.02), (2011.434, 80.88), (2011.459, 79.95), (2011.485, 78.35),
    (2011.510, 77.55), (2011.536, 77.55), (2011.561, 78.08), (2011.587, 77.28), (2011.612, 78.88),
    (2011.638, 82.48), (2011.663, 82.62), (2011.689, 85.15), (2011.715, 84.75), (2011.740, 82.62),
    (2011.766, 80.22), (2011.791, 81.68), (2011.817, 83.42), (2011.842, 86.08), (2011.868, 85.82),
    (2011.893, 85.82), (2011.919, 85.95), (2011.944, 86.88), (2011.970, 87.55), (2011.995, 85.82),
    (2012.021, 84.22), (2012.046, 84.08), (2012.072, 84.22), (2012.097, 84.35), (2012.123, 85.28),
    (2012.148, 85.28), (2012.174, 83.68), (2012.199, 83.55), (2012.225, 83.42), (2012.250, 82.88),
    (2012.276, 82.08), (2012.301, 83.15), (2012.327, 85.28), (2012.352, 86.35), (2012.378, 88.22),
    (2012.403, 86.62), (2012.429, 87.95), (2012.454, 87.95), (2012.480, 87.42), (2012.505, 86.88),
    (2012.531, 87.02), (2012.556, 86.75), (2012.582, 86.08), (2012.607, 85.55), (2012.633, 84.48),
    (2012.658, 82.48), (2012.684, 83.15), (2012.709, 83.28), (2012.735, 83.68), (2012.760, 83.68),
    (2012.786, 84.35), (2012.811, 85.28), (2012.837, 84.22), (2012.862, 84.22), (2012.888, 83.42),
    (2012.913, 83.95), (2012.939, 84.22), (2012.964, 85.28), (2012.990, 85.55), (2013.015, 85.82),
    (2013.041, 85.95), (2013.066, 87.42), (2013.092, 89.55), (2013.117, 91.68), (2013.143, 90.35),
    (2013.168, 90.35), (2013.194, 90.08), (2013.219, 89.82), (2013.245, 89.82), (2013.271, 88.88),
    (2013.296, 88.62), (2013.322, 91.95), (2013.347, 91.42), (2013.373, 90.08), (2013.398, 86.88),
    (2013.424, 92.75), (2013.449, 93.02), (2013.475, 91.15), (2013.500, 89.55), (2013.526, 89.42),
    (2013.551, 88.08), (2013.577, 87.68), (2013.602, 88.62), (2013.628, 87.68), (2013.653, 85.82),
    (2013.679, 84.75), (2013.704, 85.55), (2013.730, 83.95), (2013.755, 85.82), (2013.781, 85.28),
    (2013.806, 84.75), (2013.832, 84.48), (2013.857, 84.22), (2013.883, 84.22), (2013.908, 83.55),
    (2013.934, 84.22), (2013.959, 83.95), (2013.985, 83.68), (2014.010, 83.42), (2014.036, 83.15),
    (2014.061, 82.62), (2014.087, 82.08), (2014.112, 81.82), (2014.138, 82.62), (2014.163, 82.88),
    (2014.189, 81.82), (2014.214, 81.68), (2014.240, 81.82), (2014.265, 81.28), (2014.291, 81.82),
    (2014.316, 82.08), (2014.342, 81.82), (2014.367, 81.82), (2014.393, 81.55), (2014.418, 81.02),
    (2014.444, 80.75), (2014.469, 80.62), (2014.495, 81.55), (2014.520, 82.35), (2014.546, 82.62),
    (2014.571, 84.22), (2014.597, 85.28), (2014.622, 86.22), (2014.648, 86.88), (2014.673, 87.95),
    (2014.699, 89.42), (2014.724, 88.08), (2014.750, 88.48), (2014.775, 89.55), (2014.801, 90.35),
    (2014.827, 91.95), (2014.852, 92.48), (2014.878, 93.28), (2014.903, 93.82), (2014.929, 94.48),
    (2014.954, 94.88), (2014.980, 96.08), (2015.005, 96.48), (2015.031, 95.02), (2015.056, 95.95),
    (2015.082, 95.15), (2015.107, 98.62), (2015.133, 101.15), (2015.158, 99.95), (2015.184, 98.62),
    (2015.209, 98.88), (2015.235, 101.02), (2015.260, 97.28), (2015.286, 95.42), (2015.311, 95.95),
    (2015.337, 93.28), (2015.362, 97.15), (2015.388, 95.42), (2015.413, 93.28), (2015.439, 94.88),
    (2015.464, 95.68), (2015.490, 96.22), (2015.515, 95.95), (2015.541, 94.88), (2015.566, 94.35),
    (2015.592, 96.75), (2015.617, 95.42), (2015.643, 95.68), (2015.668, 97.15), (2015.694, 95.95),
    (2015.719, 97.02), (2015.745, 96.88), (2015.770, 96.48), (2015.796, 99.28), (2015.821, 98.62),
    (2015.847, 99.95), (2015.872, 97.55),
]

# starts of the Fed tightening cycles (decimal year)
fed_tightening = [1973.08, 1977.65, 1994.08, 1999.46, 2004.33]

tick_labels = [
    "abr-71", "ene-72", "oct-72", "jul-73", "abr-74", "ene-75", "oct-75", "jul-76", "abr-77", "ene-78",
    "oct-78", "jul-79", "abr-80", "ene-81", "oct-81", "jul-82", "abr-83", "ene-84", "oct-84", "jul-85",
    "abr-86", "ene-87", "oct-87", "jul-88", "abr-89", "ene-90", "oct-90", "jul-91", "abr-92", "ene-93",
    "oct-93", "jul-94", "abr-95", "ene-96", "oct-96", "jul-97", "abr-98", "ene-99", "oct-99", "jul-00",
    "abr-01", "ene-02", "oct-02", "jul-03", "abr-04", "ene-05", "oct-05", "jul-06", "abr-07", "ene-08",
    "oct-08", "jul-09", "abr-10", "ene-11", "oct-11", "jul-12", "abr-13", "ene-14", "oct-14", "jul-15",
]

legend_label = "Endurecimientos politica monetaria FED"

df = pd.DataFrame(dxy_1971_1978 + dxy_1978_1986 + dxy_1986_1994 + dxy_1994_2001
                  + dxy_2002_2009 + dxy_2009_2015, columns=["fecha", "valor"])

sns.set_style("white")
plt.rcParams["font.family"] = ["Liberation Sans", "DejaVu Sans"]

W, H = 2397, 1298
band = 20.5
fig = plt.figure(figsize=(W / 100, H / 100), dpi=100, facecolor="black")
ax = fig.add_axes([0, band / H, 2347 / W, 1 - band / H])
ax.set_facecolor("white")

sns.lineplot(data=df, x="fecha", y="valor", color="black", lw=1.7,
             estimator=None, sort=False, ax=ax, zorder=2)

for x in fed_tightening:
    ax.axvline(x, ymin=-0.02, ymax=1, color="#ff0000", lw=2.1, clip_on=False, zorder=3)

ax.set_xlim(1970.977, 2015.878)
ax.set_ylim(64.15, 166.35)

ticks = 1971.25 + 0.75 * np.arange(len(tick_labels))
ax.set_xticks(ticks, tick_labels)
ax.tick_params(axis="x", length=0, pad=0.5, labelsize=7, labelcolor="white")
ax.set_yticks([])
ax.set_xlabel("")
ax.set_ylabel("")
for s in ax.spines.values():
    s.set_visible(False)

# legend
handle = Line2D([], [], color="#ff0000", lw=1.5)
leg = ax.legend([handle], [legend_label], loc="center right",
                bbox_to_anchor=(2325 / 2347, 1 - 38 / (H - band)),
                frameon=False, fontsize=11.3, handlelength=7.45, handletextpad=0.45,
                borderpad=0, borderaxespad=0)
for t in leg.get_texts():
    t.set_color("#ff0000")

# title
fig.text(11 / W, 1 - 19.3 / H, "Dollar Index", fontsize=10.5, fontweight="bold",
         color="black", ha="left", va="baseline")

# last value tag on the right
last = df["valor"].iloc[-1]
ax.annotate(f"{last:.2f}".replace(".", ","), xy=(1, last), xycoords=("axes fraction", "data"),
            xytext=(4, 0), textcoords="offset points", va="center", ha="left",
            color="white", fontsize=8.4, annotation_clip=False)

fig.savefig("out.png", dpi=100, facecolor="black")
